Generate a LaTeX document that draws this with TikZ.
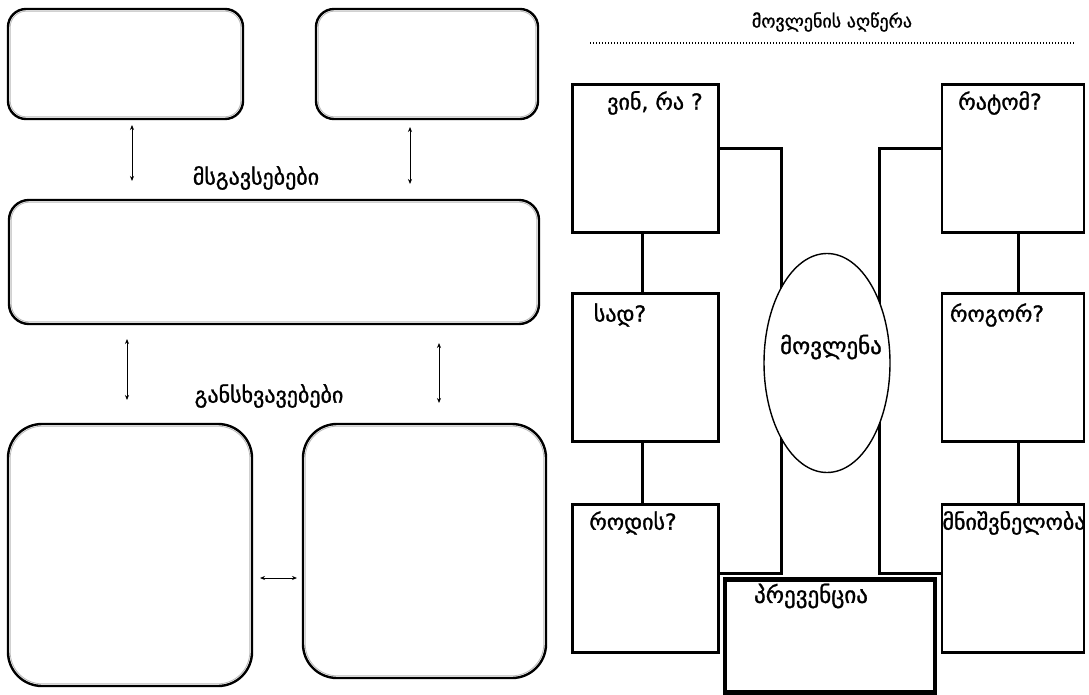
\documentclass[tikz,border=0pt]{standalone}
\usepackage{fontspec}
\newfontfamily\geo[FakeBold=1.2]{DejaVu Sans}
\usetikzlibrary{shapes.geometric,arrows.meta}
\begin{document}
\begin{tikzpicture}[x=1pt,y=-1pt,
  rbox/.style={draw=black, line width=2.4pt, rounded corners=#1, inner sep=0pt, outer sep=0pt},
  innerline/.style={draw=gray!55, line width=0.8pt, rounded corners=#1},
  sbox/.style={draw=black, line width=2.5pt, inner sep=0pt, outer sep=0pt, minimum width=146pt, minimum height=148pt},
  rsbox/.style={sbox, minimum width=142pt},
  arr/.style={line width=0.8pt, {Stealth[length=5pt,width=4pt]}-{Stealth[length=5pt,width=4pt]}},
  conn/.style={line width=3pt},
  lbl/.style={font=\geo\fontsize{22}{26}\selectfont, inner sep=0pt},
  blbl/.style={font=\geo\fontsize{23}{27}\selectfont, inner sep=0pt},
]
\useasboundingbox (0,0) rectangle (1089,695);
\fill[white] (0,0) rectangle (1089,695);

% ---------- left part ----------
\node[rbox=18pt, minimum width=235pt, minimum height=110pt] (tl) at (125.5,64) {};
\node[rbox=18pt, minimum width=222pt, minimum height=110pt] (tr) at (427,64) {};
\node[rbox=20pt, minimum width=530pt, minimum height=124pt] (mid) at (274,262) {};
\node[rbox=34pt, minimum width=244pt, minimum height=262pt] (bl) at (130,555) {};
\node[rbox=34pt, minimum width=243pt, minimum height=254pt] (br) at (424.5,551) {};

\foreach \n/\r in {tl/16pt, tr/16pt, mid/18pt, bl/32pt, br/32pt}{
  \draw[innerline=\r] ([xshift=2.2pt,yshift=-2.2pt]\n.north west) rectangle ([xshift=-2.2pt,yshift=2.2pt]\n.south east);
}

\node[lbl] (sim) at (256,178) {მსგავსებები};
\node[lbl] (dif) at (269,396) {განსხვავებები};

\coordinate (xa) at (132,0);
\coordinate (xb) at (410,0);
\coordinate (xc) at (127,0);
\coordinate (xd) at (439,0);
\coordinate (yh) at (0,578);
\draw[arr, shorten <=6pt, shorten >=19pt] (tl.south -| xa) -- (mid.north -| xa);
\draw[arr, shorten <=8pt, shorten >=16pt] (tr.south -| xb) -- (mid.north -| xb);
\draw[arr, shorten <=15pt, shorten >=24pt] (mid.south -| xc) -- (bl.north -| xc);
\draw[arr, shorten <=19pt, shorten >=21pt] (mid.south -| xd) -- (br.north -| xd);
\draw[arr, shorten <=8pt, shorten >=6pt] (bl.east |- yh) -- (br.west |- yh);

% ---------- right part ----------
\node[font=\geo\fontsize{18}{22}\selectfont, inner sep=0pt] (title) at (832,22) {მოვლენის აღწერა};
\coordinate (dl) at (590,43);
\coordinate (dr) at (1074,43);
\draw[line width=1.3pt, dash pattern=on 1.3pt off 1.7pt] (dl) -- (dr);

\node[sbox] (b1) at (645.5,158.5) {};
\node[sbox] (b2) at (645.5,367.5) {};
\node[sbox] (b3) at (645.5,578.5) {};
\node[rsbox] (r1) at (1013,158.5) {};
\node[rsbox] (r2) at (1013,367.5) {};
\node[rsbox] (r3) at (1013,578.5) {};

\coordinate (xl) at (642,0);
\coordinate (xr) at (1018,0);
\draw[conn] (b1.south -| xl) -- (b2.north -| xl);
\draw[conn] (b2.south -| xl) -- (b3.north -| xl);
\draw[conn] (r1.south -| xr) -- (r2.north -| xr);
\draw[conn] (r2.south -| xr) -- (r3.north -| xr);

\coordinate (cl) at (781,0);
\coordinate (cr) at (879,0);
\coordinate (b1p) at ([yshift=10pt]b1.east);
\coordinate (b3p) at ([yshift=5pt]b3.east);
\coordinate (r1p) at ([yshift=10pt]r1.west);
\coordinate (r3p) at ([yshift=5pt]r3.west);
\draw[conn] (b1p) -| (cl |- b3p) -- (b3p);
\draw[conn] (r1p) -| (cr |- r3p) -- (r3p);

\node[draw=black, line width=1.4pt, fill=white, ellipse, minimum width=126pt, minimum height=219pt, inner sep=0pt] (ev) at (827,363) {};
\node[blbl] (evt) at (831,347) {მოვლენა};

\node[draw=black, line width=4.5pt, inner sep=0pt, minimum width=210pt, minimum height=113pt] (pr) at (830,636) {};
\node[blbl] (prt) at (811,596) {პრევენცია};

\node[lbl] (t1) at (655,103) {ვინ, რა ?};
\node[lbl] (t2) at (620,315) {სად?};
\node[lbl] (t3) at (633,523) {როდის?};
\node[lbl] (t4) at (1000,103) {რატომ?};
\node[lbl] (t5) at (997,315) {როგორ?};
\node[lbl] (t6) at (1014,523) {მნიშვნელობა};
\end{tikzpicture}
\end{document}
